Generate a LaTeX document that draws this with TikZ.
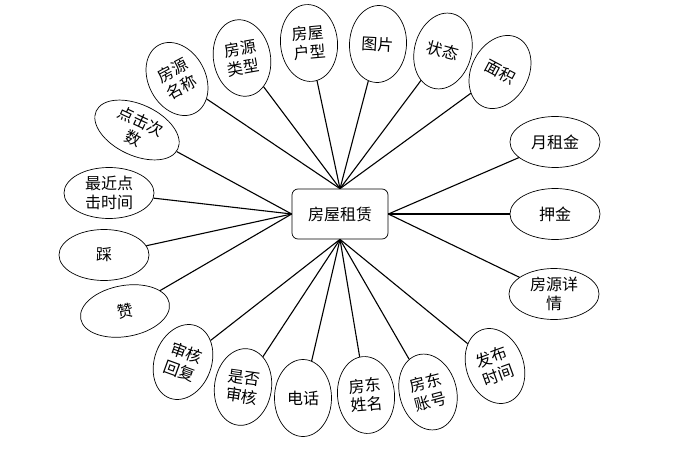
\documentclass[tikz,border=0pt]{standalone}
\usepackage{fontspec}
\newfontfamily\cjk{Noto Sans CJK SC}
\usepackage{tikz}
\usetikzlibrary{shapes.geometric}

\begin{document}
\begin{tikzpicture}[x=1pt, y=-1pt,
    every node/.style={font=\cjk\fontsize{16}{19}\selectfont},
    entity/.style={
        rectangle, rounded corners=6pt, draw, line width=0.7pt,
        minimum width=96pt, minimum height=50pt,
    },
    attr/.style={
        ellipse, draw, line width=0.7pt, inner sep=0pt, align=center,
        minimum width=57pt, minimum height=77pt,
    },
    wideattr/.style={
        attr, minimum width=90pt, minimum height=51pt,
    },
    link/.style={line width=1.1pt},
]
\useasboundingbox (0,0) rectangle (687,457);

% ── Entity ────────────────────────────────────────────────────────────
\node[entity] (rent) at (340,214) {房屋租赁};

% ── Attributes, top ───────────────────────────────────────────────────
\node[attr, rotate=28]  (name)   at (177,79) {房源\\名称};
\node[attr, rotate=10]  (kind)   at (242,58) {房源\\类型};
\node[attr, rotate=5]   (layout) at (309,43) {房屋\\户型};
\node[attr, rotate=-3]  (photo)  at (378,44) {图片};
\node[attr, rotate=-15] (state)  at (443,51) {状态};
\node[attr, rotate=-28] (area)   at (500,72) {面积};

% ── Attributes, right ─────────────────────────────────────────────────
\node[wideattr] (monthly) at (555,142) {月租金};
\node[wideattr] (deposit) at (555,214) {押金};
\node[wideattr] (detail)  at (554,294) {房源详\\情};

% ── Attributes, bottom ────────────────────────────────────────────────
\node[attr, rotate=20]  (pubtime) at (495,366) {发布\\时间};
\node[attr, rotate=15]  (account) at (428,392) {房东\\账号};
\node[attr, rotate=5]   (owner)   at (366,395) {房东\\姓名};
\node[attr]             (phone)   at (303,398) {电话};
\node[attr, rotate=-8]  (checked) at (243,387) {是否\\审核};
\node[attr, rotate=-20] (reply)   at (183,362) {审核\\回复};

% ── Attributes, left ──────────────────────────────────────────────────
\node[wideattr, rotate=10]  (like)     at (125,311) {赞};
\node[wideattr]             (dislike)  at (104,255) {踩};
\node[wideattr]             (lasttime) at (109,193) {最近点\\击时间};
\node[wideattr, rotate=-25] (clicks)   at (137,130) {点击次\\数};

% ── Links ─────────────────────────────────────────────────────────────
\foreach \a in {name, kind, layout, photo, state, area}
    \draw[link] (rent.north) -- (\a);
\foreach \a in {monthly, deposit, detail}
    \draw[link] (rent.east) -- (\a);
\foreach \a in {pubtime, account, owner, phone, checked, reply}
    \draw[link] (rent.south) -- (\a);
\foreach \a in {like, dislike, lasttime, clicks}
    \draw[link] (rent.west) -- (\a);

\end{tikzpicture}
\end{document}
